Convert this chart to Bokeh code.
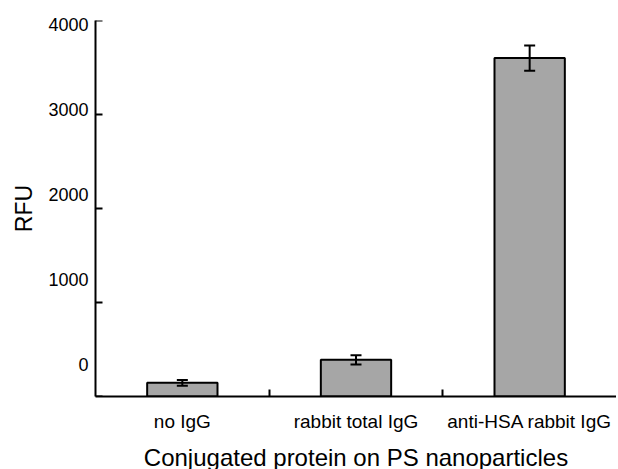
from bokeh.plotting import figure
from bokeh.models import (Range1d, FixedTicker, ColumnDataSource, Whisker,
                          TeeHead, LinearAxis)
from bokeh.embed import file_html
from bokeh.resources import INLINE

# ---- data ----
categories = ["no IgG", "rabbit total IgG", "anti-HSA rabbit IgG"]
rfu = [145, 390, 3600]
rfu_err = [30, 50, 135]
y_ticks = [0, 1000, 2000, 3000, 4000]
y_tick_labels = ["0", "1000", "2000", "3000", "4000"]

# ---- style ----
FONT = "Liberation Sans"
BAR_COLOR = "#a6a6a6"
# In the original the tick labels drift upward relative to their tick marks;
# the labels are drawn on a companion axis whose range is slightly stretched.
LABEL_RANGE = (-370, 4043)

n = len(categories)
xs = [i + 0.5 for i in range(n)]
src = ColumnDataSource(dict(
    x=xs, top=rfu,
    upper=[v + e for v, e in zip(rfu, rfu_err)],
    lower=[v - e for v, e in zip(rfu, rfu_err)],
))

p = figure(width=616, height=473,
           x_range=Range1d(0, n), y_range=Range1d(y_ticks[0], y_ticks[-1]),
           y_axis_location=None,
           output_backend="svg", toolbar_location=None,
           min_border_left=95, min_border_right=0,
           min_border_top=20, min_border_bottom=77)
p.outline_line_color = None
p.grid.visible = False
p.background_fill_color = "white"
p.border_fill_color = "white"
p.extra_y_ranges = {"labels": Range1d(*LABEL_RANGE)}

p.vbar(x="x", top="top", bottom=0, width=0.405, source=src,
       fill_color=BAR_COLOR, line_color="black", line_width=2)

w = Whisker(base="x", upper="upper", lower="lower", source=src,
            line_color="black", line_width=2, level="overlay",
            upper_head=TeeHead(size=11, line_color="black", line_width=2),
            lower_head=TeeHead(size=11, line_color="black", line_width=2))
p.add_layout(w)

# inward y ticks (dash markers centred on the axis, clipped by the frame)
p.scatter(x=[0] * len(y_ticks), y=y_ticks, marker="dash", size=14,
          line_color="black", line_width=2)

# x axis: labels at category centres, small ticks at category boundaries
xa = p.xaxis[0]
xa.ticker = FixedTicker(ticks=xs, minor_ticks=[i for i in range(1, n)])
xa.major_label_overrides = {x: c for x, c in zip(xs, categories)}
xa.major_tick_in = 0
xa.major_tick_out = 0
xa.minor_tick_in = 7
xa.minor_tick_out = 0
xa.minor_tick_line_color = "black"
xa.minor_tick_line_width = 2
xa.axis_line_color = "black"
xa.axis_line_width = 2
xa.major_label_text_font = FONT
xa.major_label_text_font_size = "19px"
xa.major_label_text_color = "black"
xa.major_label_standoff = 14
xa.axis_label = "Conjugated protein on PS nanoparticles"
xa.axis_label_text_font = FONT
xa.axis_label_text_font_size = "24px"
xa.axis_label_text_font_style = "normal"
xa.axis_label_text_color = "black"
xa.axis_label_standoff = 9

# y axis (labels)
ya = LinearAxis(y_range_name="labels",
                ticker=FixedTicker(ticks=y_ticks),
                major_label_overrides={v: t for v, t in zip(y_ticks, y_tick_labels)})
ya.major_tick_in = 0
ya.major_tick_out = 0
ya.minor_tick_line_color = None
ya.axis_line_color = "black"
ya.axis_line_width = 2
ya.major_label_text_font = FONT
ya.major_label_text_font_size = "18px"
ya.major_label_text_color = "black"
ya.major_label_standoff = 7
ya.axis_label = "RFU"
ya.axis_label_text_font = FONT
ya.axis_label_text_font_size = "23px"
ya.axis_label_text_font_style = "normal"
ya.axis_label_text_color = "black"
ya.axis_label_standoff = 8
p.add_layout(ya, "left")

open("out.html", "w").write(file_html(p, INLINE))
